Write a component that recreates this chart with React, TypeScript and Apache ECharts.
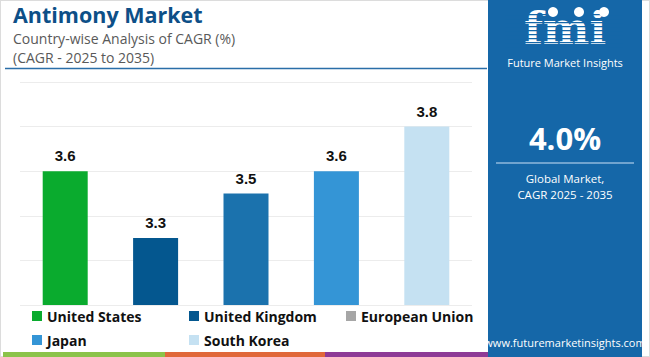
import React, { useEffect, useRef } from "react";
import * as echarts from "echarts";

const countries = ["United States", "United Kingdom", "European Union", "Japan", "South Korea"];
const cagrValues = [3.6, 3.3, 3.5, 3.6, 3.8];
const barColors = ["#0aab2e", "#04578f", "#1b72ad", "#3495d6", "#c5e1f2"];
const legendColors = ["#0aab2e", "#04578f", "#a6a6a6", "#3495d6", "#c5e1f2"];
const legendPos = [
  { left: 32, top: 309 },
  { left: 189, top: 309 },
  { left: 346, top: 309 },
  { left: 32, top: 333 },
  { left: 189, top: 333 },
];
const titleText = "Antimony Market";
const subtitle1 = "Country-wise Analysis of CAGR (%)";
const subtitle2 = "(CAGR - 2025 to 2035)";
const globalCagr = "4.0%";
const panelLine1 = "Global Market,";
const panelLine2 = "CAGR 2025 - 2035";
const website = "www.futuremarketinsights.com";

const PANEL = "#1567a8";

export default function App() {
  const ref = useRef<HTMLDivElement>(null);
  useEffect(() => {
    document.body.style.margin = "0";
    const chart = echarts.init(ref.current!, null, { renderer: "svg" });
    const series = countries.map((name, i) => ({
      name,
      type: "bar",
      barWidth: 45,
      barGap: "-100%",
      color: barColors[i],
      itemStyle: { color: barColors[i] },
      data: countries.map((_, j) => (j === i ? cagrValues[i] : "-")),
      label: {
        show: true,
        position: "top",
        distance: 8,
        color: "#111",
        fontFamily: "Liberation Sans",
        fontWeight: "bold",
        fontSize: 15,
        formatter: (p: any) => Number(p.value).toFixed(1),
      },
    }));
    const legends = countries.map((name, i) => ({
      left: legendPos[i].left,
      top: legendPos[i].top,
      orient: "horizontal",
      icon: "rect",
      itemWidth: 10,
      itemHeight: 10,
      itemGap: 4,
      padding: 0,
      data: [{ name, itemStyle: { color: legendColors[i] } }],
      textStyle: { color: "#111", fontFamily: "Open Sans", fontWeight: "bold", fontSize: 14 },
    }));
    const stripes: any[] = [];
    for (let k = 0; k < 9; k++) {
      stripes.push({
        type: "rect",
        shape: { x: 505, y: 14 + k * 4, width: 118, height: 1.3 },
        style: { fill: PANEL },
        z: 20,
      });
    }
    chart.setOption({
      animation: false,
      grid: { left: 20, right: 178, top: 82, bottom: 52 },
      xAxis: {
        type: "category",
        data: countries,
        axisLine: { show: false },
        axisTick: { show: false },
        axisLabel: { show: false },
      },
      yAxis: {
        type: "value",
        min: 3.0,
        max: 4.0,
        interval: 0.2,
        axisLabel: { show: false },
        axisLine: { show: false },
        axisTick: { show: false },
        splitLine: { lineStyle: { color: "#ececec", width: 1 } },
      },
      legend: legends,
      series,
      graphic: [
        { type: "rect", shape: { x: 0, y: 0, width: 650, height: 357 }, style: { fill: "none", stroke: "#dcdcdc", lineWidth: 2 }, z: 0 },
        { type: "text", left: 13, top: 3, style: { text: titleText, fill: "#0d4f87", font: "bold 21.5px 'Open Sans'" } },
        { type: "text", left: 13, top: 31, style: { text: subtitle1, fill: "#595959", font: "14px 'Open Sans'" } },
        { type: "text", left: 13, top: 50, style: { text: subtitle2, fill: "#595959", font: "14px 'Open Sans'" } },
        { type: "line", shape: { x1: 5, y1: 68.5, x2: 487, y2: 68.5 }, style: { stroke: "#2a6ea8", lineWidth: 1.5 } },
        { type: "rect", shape: { x: 488, y: 0, width: 154, height: 357 }, style: { fill: PANEL }, z: 10 },
        { type: "text", x: 565, y: 28, style: { text: "fmi", fill: "#fff", font: "bold 44px 'DejaVu Serif'", align: "center", verticalAlign: "middle" }, z: 15 },
        ...stripes,
        { type: "circle", shape: { cx: 553, cy: 12, r: 5 }, style: { fill: "#fff" }, z: 21 },
        { type: "circle", shape: { cx: 579, cy: 12, r: 5 }, style: { fill: "#fff" }, z: 21 },
        { type: "circle", shape: { cx: 604, cy: 12, r: 5 }, style: { fill: "#fff" }, z: 21 },
        { type: "text", x: 565, y: 62, style: { text: "Future Market Insights", fill: "#fff", font: "11px 'Open Sans'", align: "center", verticalAlign: "middle" }, z: 15 },
        { type: "text", x: 565, y: 138, style: { text: globalCagr, fill: "#fff", font: "bold 31px 'Open Sans'", align: "center", verticalAlign: "middle" }, z: 15 },
        { type: "line", shape: { x1: 496, y1: 163, x2: 634, y2: 163 }, style: { stroke: "#8fb8dc", lineWidth: 1.5 }, z: 15 },
        { type: "text", x: 565, y: 178, style: { text: panelLine1, fill: "#fff", font: "11.5px 'Open Sans'", align: "center", verticalAlign: "middle" }, z: 15 },
        { type: "text", x: 565, y: 194, style: { text: panelLine2, fill: "#fff", font: "11.5px 'Open Sans'", align: "center", verticalAlign: "middle" }, z: 15 },
        { type: "text", x: 565, y: 342, style: { text: website, fill: "#fff", font: "11px 'Open Sans'", align: "center", verticalAlign: "middle" }, z: 15 },
        { type: "rect", shape: { x: 3, y: 352, width: 162, height: 5 }, style: { fill: "#8bc34a" }, z: 12 },
        { type: "rect", shape: { x: 165, y: 352, width: 160, height: 5 }, style: { fill: "#e0683a" }, z: 12 },
        { type: "rect", shape: { x: 325, y: 352, width: 163, height: 5 }, style: { fill: "#8e3a96" }, z: 12 },
      ],
    });
    return () => chart.dispose();
  }, []);
  return <div ref={ref} style={{ width: 650, height: 357 }} />;
}
